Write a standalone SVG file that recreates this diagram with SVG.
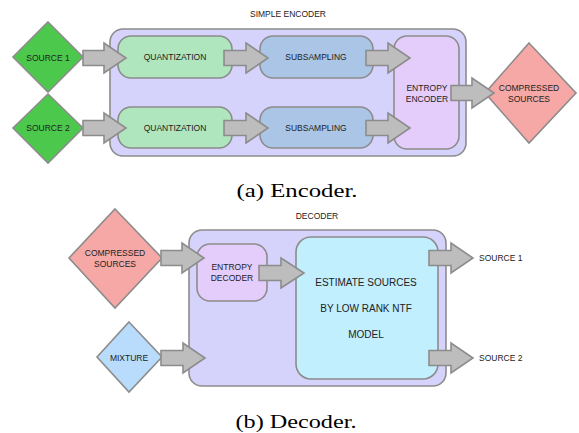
<svg xmlns="http://www.w3.org/2000/svg" width="579" height="433" viewBox="0 0 579 433">
<style>
.box{stroke:#8c8c8c;stroke-width:1.6}
.outer{fill:#d5d3fc}
.quant{fill:#b0e6bd}
.sub{fill:#abc5e6}
.ent{fill:#e4cdfb}
.src{fill:#4cc94c}
.comp{fill:#f5a8a6}
.mix{fill:#b9dcfc}
.est{fill:#c1effd}
.arrow{fill:#bdbdbd;stroke:#8c8c8c;stroke-width:1.6;stroke-linejoin:miter}
text{font-family:"Liberation Sans",Arial,sans-serif;fill:#222;text-anchor:middle;dominant-baseline:central}
.s{font-size:8.5px}
.m{font-size:10px}
.l{font-size:8.5px;text-anchor:start}
.cap{font-family:"Liberation Serif","Times New Roman",serif;font-size:18px;fill:#000;dominant-baseline:alphabetic}
</style>
<rect width="579" height="433" fill="#fff"/>

<text class="s" x="288" y="14">SIMPLE ENCODER</text>
<g id="encoder">
<rect class="box outer" x="110" y="29" width="356" height="127" rx="13"/>
</g>
<g id="quant1"><rect class="box quant" x="118" y="36" width="114" height="42" rx="13"/><text class="s" x="175" y="57">QUANTIZATION</text></g>
<g id="quant2"><rect class="box quant" x="118" y="107" width="114" height="41" rx="13"/><text class="s" x="175" y="128">QUANTIZATION</text></g>
<g id="sub1"><rect class="box sub" x="260" y="36" width="113" height="42" rx="13"/><text class="s" x="316" y="57">SUBSAMPLING</text></g>
<g id="sub2"><rect class="box sub" x="260" y="107" width="113" height="41" rx="13"/><text class="s" x="316" y="128">SUBSAMPLING</text></g>
<g id="entenc"><rect class="box ent" x="394" y="36" width="65" height="113" rx="13"/><text class="s" x="427" y="88">ENTROPY</text><text class="s" x="427" y="99">ENCODER</text></g>
<g id="source1"><polygon class="box src" points="48,22 83,57 48,92 13,57"/><text class="s" x="48" y="58">SOURCE 1</text></g>
<g id="source2"><polygon class="box src" points="48,94 83,128 48,163 13,128"/><text class="s" x="48" y="128">SOURCE 2</text></g>
<g id="compressed"><polygon class="box comp" points="529,43 576,93 529,143 485,93"/><text class="s" x="529" y="88">COMPRESSED</text><text class="s" x="529" y="99">SOURCES</text></g>

<text class="cap" x="297" y="197" textLength="121" lengthAdjust="spacingAndGlyphs">(a) Encoder.</text>

<text class="s" x="317" y="216">DECODER</text>
<g id="decoder"><rect class="box outer" x="189" y="230" width="257" height="156" rx="13"/></g>
<g id="entdec"><rect class="box ent" x="197" y="244" width="70" height="57" rx="13"/><text class="s" x="232" y="267">ENTROPY</text><text class="s" x="232" y="278">DECODER</text></g>
<g id="estimate"><rect class="box est" x="296" y="237" width="142" height="142" rx="15"/><text class="m" x="366" y="282">ESTIMATE SOURCES</text><text class="m" x="366" y="308">BY LOW RANK NTF</text><text class="m" x="366" y="334">MODEL</text></g>
<g id="compressed2"><polygon class="box comp" points="115,209 162,258 115,308 69,258"/><text class="s" x="115" y="253">COMPRESSED</text><text class="s" x="115" y="264">SOURCES</text></g>
<g id="mixture"><polygon class="box mix" points="129,322 162,357 129,392 97,357"/><text class="s" x="129" y="358">MIXTURE</text></g>
<g id="out1"><text class="l" x="479" y="258">SOURCE 1</text></g>
<g id="out2"><text class="l" x="479" y="358">SOURCE 2</text></g>

<text class="cap" x="296" y="428" textLength="121" lengthAdjust="spacingAndGlyphs">(b) Decoder.</text>

<g id="connectors">
<path class="arrow" d="M83,50.5H104V43L126,58L104,73V65.5H83Z"/>
<path class="arrow" d="M83,120.5H104V113L126,128L104,143V135.5H83Z"/>
<path class="arrow" d="M224,50.5H246V43L268,58L246,73V65.5H224Z"/>
<path class="arrow" d="M224,120.5H246V113L268,128L246,143V135.5H224Z"/>
<path class="arrow" d="M366,50.5H388V43L410,58L388,73V65.5H366Z"/>
<path class="arrow" d="M366,120.5H388V113L410,128L388,143V135.5H366Z"/>
<path class="arrow" d="M451,85.5H472V78L494,93L472,108V100.5H451Z"/>
<path class="arrow" d="M161,250.5H182V243L204,258L182,273V265.5H161Z"/>
<path class="arrow" d="M259,265.5H281V258L304,273L281,288V280.5H259Z"/>
<path class="arrow" d="M161,350.5H183V343L205,358L183,373V365.5H161Z"/>
<path class="arrow" d="M429,250.5H451V243L473,258L451,273V265.5H429Z"/>
<path class="arrow" d="M429,350.5H451V343L473,358L451,373V365.5H429Z"/>
</g>
</svg>
